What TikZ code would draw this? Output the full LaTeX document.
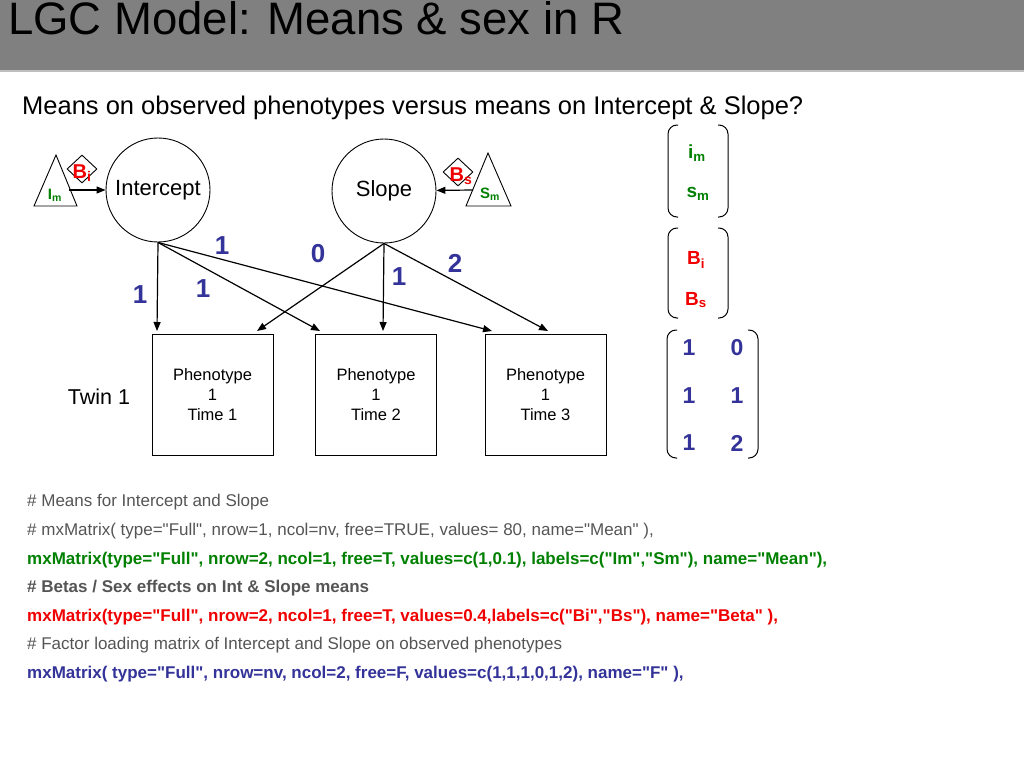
\documentclass[tikz,border=0pt]{standalone}
\usepackage{fontspec}
\setmainfont{Liberation Sans}
\newfontfamily\codefont{Liberation Sans}
\usetikzlibrary{arrows.meta}
\usetikzlibrary{shapes.geometric}
\definecolor{titlegray}{RGB}{128,128,128}
\definecolor{meangreen}{RGB}{0,128,0}
\definecolor{betared}{RGB}{240,0,0}
\definecolor{loadblue}{RGB}{51,51,153}
\definecolor{commentgray}{RGB}{85,85,85}
\tikzset{
  every node/.style={
    inner sep=0pt,
  },
  latent/.style={
    circle,
    draw=black,
    line width=0.9pt,
    minimum size=104pt,
    font=\fontsize{22}{26}\selectfont,
  },
  observed/.style={
    draw=black,
    line width=0.9pt,
    minimum width=121pt,
    minimum height=121pt,
    align=center,
    font=\fontsize{16.5}{20}\selectfont,
  },
  meantri/.style={
    draw=black,
    line width=0.9pt,
  },
  meanlbl/.style={
    color=meangreen,
    font=\fontsize{15}{18}\selectfont\bfseries,
  },
  betadia/.style={
    diamond,
    draw=black,
    fill=white,
    line width=0.9pt,
    minimum width=30pt,
    minimum height=28pt,
  },
  betalbl/.style={
    color=betared,
    font=\fontsize{20}{24}\selectfont\bfseries,
  },
  loading/.style={
    color=loadblue,
    font=\fontsize{26}{30}\selectfont\bfseries,
  },
  pointer/.style={
    -{Triangle[length=9pt,width=7pt]},
    line width=1.2pt,
  },
  matparen/.style={
    line width=1pt,
    rounded corners=9pt,
  },
  codeline/.style={
    anchor=base west,
    font=\codefont\fontsize{17}{20}\selectfont,
  },
  boldcode/.style={
    codeline,
    font=\codefont\fontsize{17}{20}\selectfont\bfseries,
  },
  comment/.style={
    codeline,
    color=commentgray,
  },
}

\begin{document}
\begin{tikzpicture}[x=1pt,y=-1pt]
  \useasboundingbox (0,0) rectangle (1024,768);
  % title bar
  \fill[titlegray] (0,0) rectangle (1024,70);
  \draw[gray!50, line width=2pt] (0,71) -- (1024,71);
  \node[anchor=base west, font=\fontsize{45.5}{50}\selectfont] (title) at (8,35)
    {LGC Model: Means \& sex in R};
  \node[anchor=base west, font=\fontsize{25.5}{30}\selectfont] (question) at (22,114)
    {Means on observed phenotypes versus means on Intercept \& Slope?};

  % latent factors
  \node[latent] (int) at (158,190) {Intercept};
  \node[latent] (slp) at (384,191) {Slope};

  % means with sex effects
  \draw[meantri] (56,155) -- (34,206) -- (77,206) -- cycle;
  \draw[meantri] (488,153) -- (466,206) -- (511,206) -- cycle;
  \coordinate (imout) at (69,190);
  \coordinate (smout) at (473,190);
  \draw[pointer] (imout) -- (int);
  \draw[pointer] (smout) -- (slp);
  \node[meanlbl] (im) at (55,195) {I\textsubscript{m}};
  \node[meanlbl] (sm) at (490,194) {S\textsubscript{m}};
  \node[betadia] (bidia) at (82,169) {};
  \node[betadia] (bsdia) at (458,172) {};
  \node[betalbl] (bi) at (82,173) {B\textsubscript{i}};
  \node[betalbl] (bs) at (461,176) {B\textsubscript{s}};

  % observed phenotypes
  \node[observed] (p1) at (212.5,395) {Phenotype\\1\\Time 1};
  \node[observed] (p2) at (376,395) {Phenotype\\1\\Time 2};
  \node[observed] (p3) at (545.5,395) {Phenotype\\1\\Time 3};
  \node[font=\fontsize{21.5}{26}\selectfont] (twin) at (99,397) {Twin 1};

  % factor loadings
  \coordinate (t1i) at (157,331);
  \coordinate (t2i) at (320,331);
  \coordinate (t3i) at (492,331);
  \coordinate (t1s) at (257,331);
  \coordinate (t2s) at (383,331);
  \coordinate (t3s) at (548,331);
  \foreach \t in {t1i,t2i,t3i}
    \draw[pointer] (int.south) -- (\t);
  \foreach \t in {t1s,t2s,t3s}
    \draw[pointer] (slp.south) -- (\t);
  \node[loading] (l1i) at (140,295) {1};
  \node[loading] (l2i) at (203,289) {1};
  \node[loading] (l3i) at (222,246) {1};
  \node[loading] (l1s) at (318,254) {0};
  \node[loading] (l2s) at (399,277) {1};
  \node[loading] (l3s) at (455,263) {2};

  % matrices
  \draw[matparen] (678,125) -- (668,125) -- (668,217) -- (678,217);
  \draw[matparen] (718,125) -- (728,125) -- (728,217) -- (718,217);
  \node[meanlbl, font=\fontsize{19}{22}\selectfont\bfseries] (mi) at (697,153) {i\textsubscript{m}};
  \node[meanlbl, font=\fontsize{19}{22}\selectfont\bfseries] (ms) at (698,194) {s\textsubscript{m}};
  \draw[matparen] (678,228) -- (668,228) -- (668,318) -- (678,318);
  \draw[matparen] (718,228) -- (728,228) -- (728,318) -- (718,318);
  \node[betalbl, font=\fontsize{19}{22}\selectfont\bfseries] (mbi) at (696,260) {B\textsubscript{i}};
  \node[betalbl, font=\fontsize{19}{22}\selectfont\bfseries] (mbs) at (696,300) {B\textsubscript{s}};
  \draw[matparen] (677,330) -- (667,330) -- (667,458) -- (677,458);
  \draw[matparen] (748,330) -- (758,330) -- (758,458) -- (748,458);
  \node[loading, font=\fontsize{23}{26}\selectfont\bfseries] (f11) at (689,348) {1};
  \node[loading, font=\fontsize{23}{26}\selectfont\bfseries] (f12) at (737,348) {0};
  \node[loading, font=\fontsize{23}{26}\selectfont\bfseries] (f21) at (689,396) {1};
  \node[loading, font=\fontsize{23}{26}\selectfont\bfseries] (f22) at (737,396) {1};
  \node[loading, font=\fontsize{23}{26}\selectfont\bfseries] (f31) at (689,443) {1};
  \node[loading, font=\fontsize{23}{26}\selectfont\bfseries] (f32) at (737,443) {2};

  % R code
  \node[comment] (c1) at (27,506) {\# Means for Intercept and Slope};
  \node[comment] (c2) at (27,535)
    {\# mxMatrix( type="Full", nrow=1, ncol=nv, free=TRUE, values= 80, name="Mean" ),};
  \node[boldcode, color=meangreen] (c3) at (27,564)
    {mxMatrix(type="Full", nrow=2, ncol=1, free=T, values=c(1,0.1), labels=c("Im","Sm"), name="Mean"),};
  \node[boldcode, color=commentgray] (c4) at (27,592)
    {\# Betas / Sex effects on Int \& Slope means};
  \node[boldcode, color=betared] (c5) at (27,621)
    {mxMatrix(type="Full", nrow=2, ncol=1, free=T, values=0.4,labels=c("Bi","Bs"), name="Beta" ),};
  \node[comment] (c6) at (27,649)
    {\# Factor loading matrix of Intercept and Slope on observed phenotypes};
  \node[boldcode, color=loadblue] (c7) at (27,678)
    {mxMatrix( type="Full", nrow=nv, ncol=2, free=F, values=c(1,1,1,0,1,2), name="F" ),};
\end{tikzpicture}
\end{document}
